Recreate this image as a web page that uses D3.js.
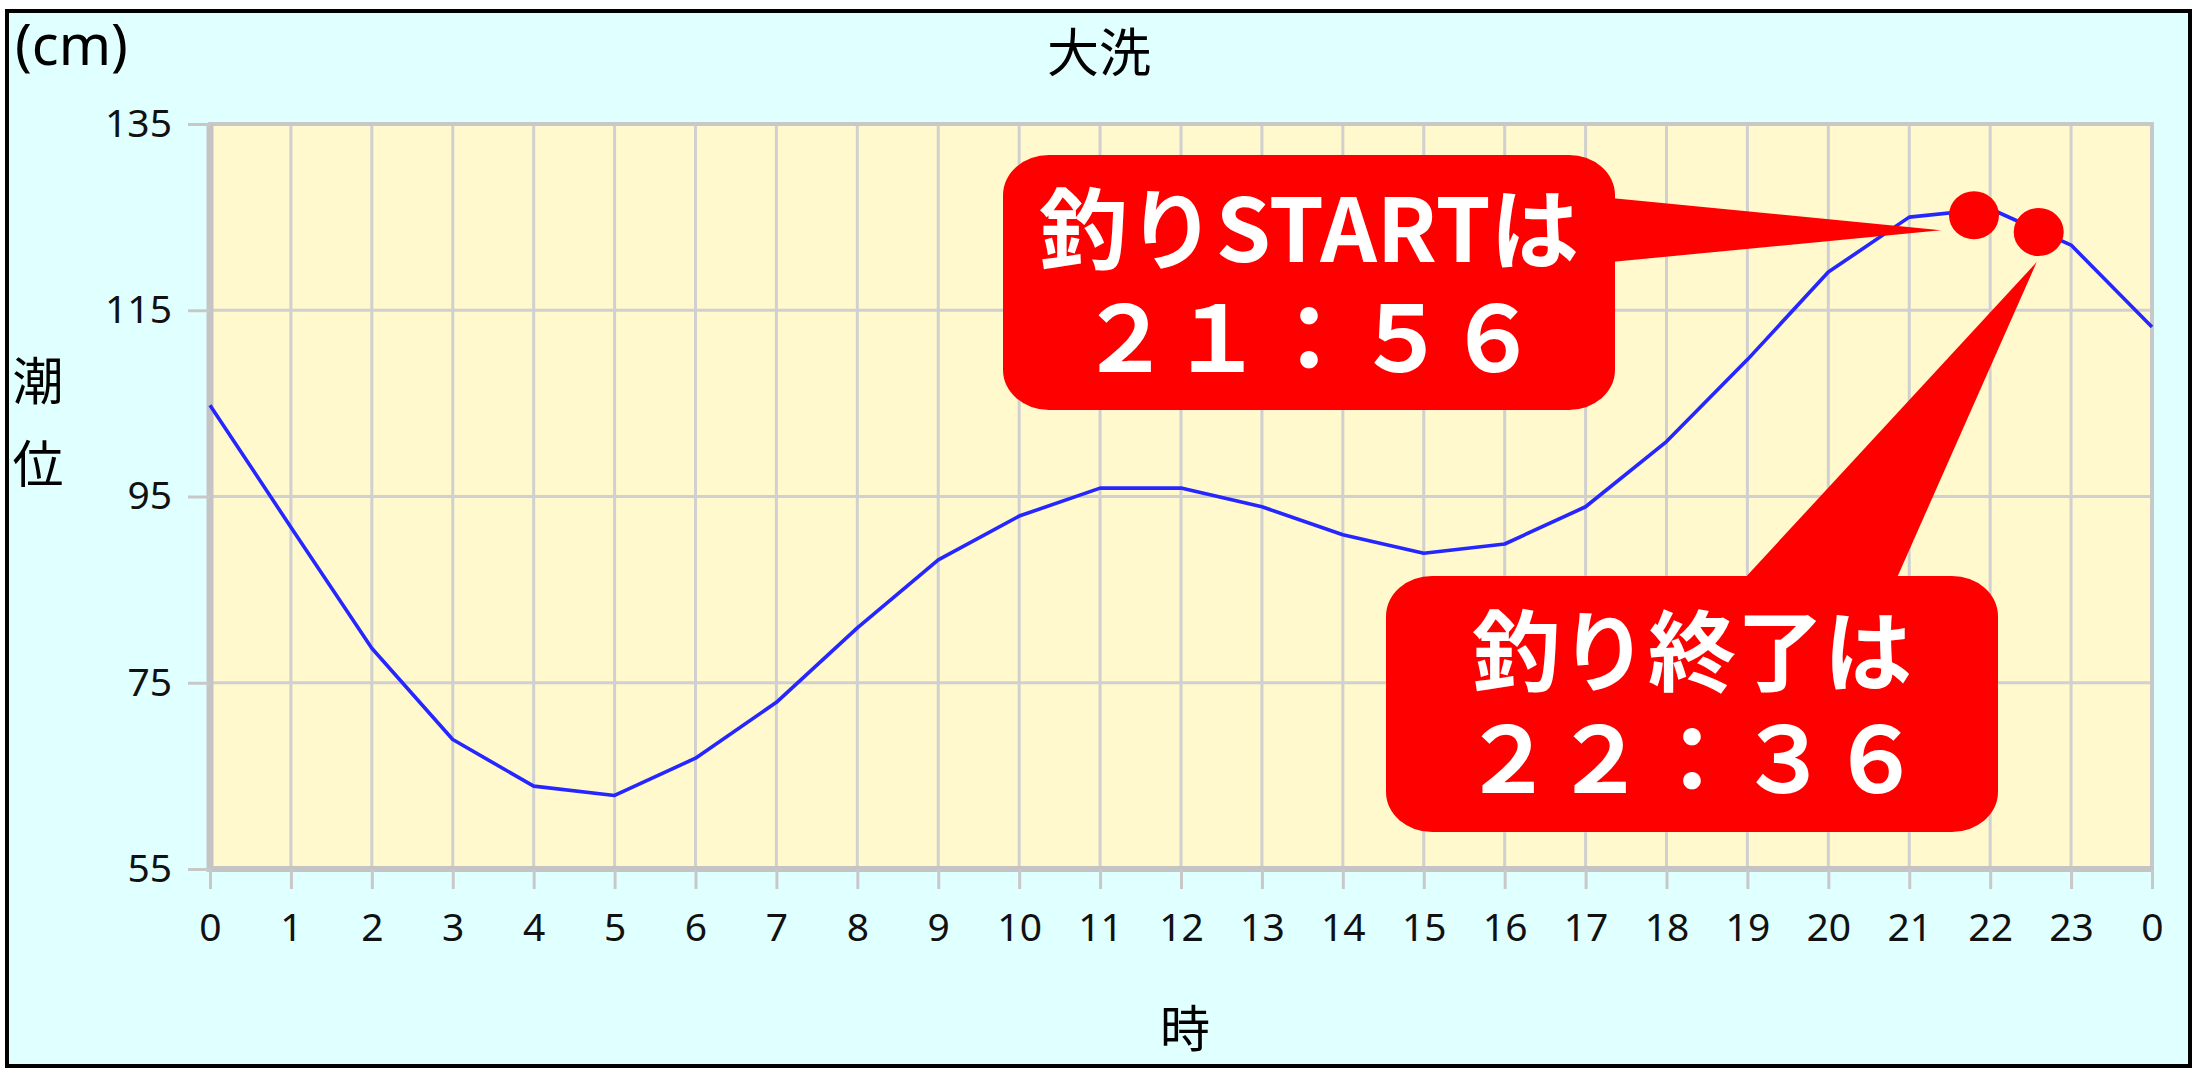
<!DOCTYPE html>
<html>
<head>
<meta charset="utf-8">
<script src="https://cdn.jsdelivr.net/npm/d3@7"></script>
<style>
html,body{margin:0;padding:0;background:#fff;}
svg{display:block;}
</style>
</head>
<body>
<script>
// ---- data ----
const hours = [0,1,2,3,4,5,6,7,8,9,10,11,12,13,14,15,16,17,18,19,20,21,22,23,24];
const tide = [104.8,91.7,78.7,68.9,63.9,62.9,66.9,72.9,80.9,88.2,92.9,95.9,95.9,93.9,90.9,88.9,89.9,93.9,100.9,109.7,119.1,125.0,125.9,122.0,113.2];
const xTickLabels = ["0","1","2","3","4","5","6","7","8","9","10","11","12","13","14","15","16","17","18","19","20","21","22","23","0"];
const yTicks = [55,75,95,115,135];
const markerHours = [21.8, 22.6];
const markerLevels = [125.2, 123.4];
const calloutLine1 = ["釣りSTARTは", "釣り終了は"];
const calloutLine2 = ["２１：５６", "２２：３６"];
const title = "大洗";
const unitLabel = "(cm)";
const yTitle = ["潮","位"];
const xTitle = "時";

const W = 2193, H = 1069;
const svg = d3.select("body").append("svg").attr("width", W).attr("height", H);

// outer frame
svg.append("rect").attr("x",0).attr("y",0).attr("width",W).attr("height",H).attr("fill","#fff");
svg.append("rect").attr("x",7).attr("y",11).attr("width",2183).attr("height",1055)
  .attr("fill","#E0FFFF").attr("stroke","#000").attr("stroke-width",4);

const x = d3.scaleLinear().domain([0,24]).range([210,2152]);
const y = d3.scaleLinear().domain([55,135]).range([869,124]);

const gridColor = "#d0d0d0";
// plot background
svg.append("rect").attr("x",x(0)).attr("y",y(135)).attr("width",x(24)-x(0)).attr("height",y(55)-y(135))
  .attr("fill","#FFF9CD");

// gridlines
svg.append("g").selectAll("line").data(hours).join("line")
  .attr("x1",d=>x(d)).attr("x2",d=>x(d)).attr("y1",y(135)).attr("y2",y(55))
  .attr("stroke",gridColor).attr("stroke-width",3);
svg.append("g").selectAll("line").data(yTicks).join("line")
  .attr("x1",x(0)).attr("x2",x(24)).attr("y1",d=>y(d)).attr("y2",d=>y(d))
  .attr("stroke",gridColor).attr("stroke-width",3);

// plot border (thicker left/bottom)
svg.append("rect").attr("x",x(0)).attr("y",y(135)).attr("width",x(24)-x(0)).attr("height",y(55)-y(135))
  .attr("fill","none").attr("stroke","#c8c8c8").attr("stroke-width",4);
svg.append("line").attr("x1",x(0)).attr("x2",x(0)).attr("y1",y(135)).attr("y2",y(55)+3)
  .attr("stroke","#c4c4c4").attr("stroke-width",7);
svg.append("line").attr("x1",x(0)-3).attr("x2",x(24)+2).attr("y1",y(55)).attr("y2",y(55))
  .attr("stroke","#c4c4c4").attr("stroke-width",6);

// axes
const tickFont = "'Noto Sans', 'DejaVu Sans', sans-serif";
const yAxis = svg.append("g").attr("transform",`translate(${x(0)},0)`)
  .call(d3.axisLeft(y).tickValues(yTicks).tickSize(22).tickPadding(16).tickFormat(d3.format("d")));
const xAxis = svg.append("g").attr("transform",`translate(0,${y(55)})`)
  .call(d3.axisBottom(x).tickValues(hours).tickSize(20).tickPadding(24).tickFormat((d,i)=>xTickLabels[i]));
[yAxis,xAxis].forEach(a=>{
  a.select(".domain").remove();
  a.selectAll(".tick line").attr("stroke","#c8c8c8").attr("stroke-width",3);
  a.selectAll(".tick text").attr("fill","#111").style("font-family",tickFont).style("font-size","39px");
});

// tide line
svg.append("path").datum(hours.map((h,i)=>[h,tide[i]]))
  .attr("d", d3.line().x(d=>x(d[0])).y(d=>y(d[1])))
  .attr("fill","none").attr("stroke","#2626ff").attr("stroke-width",3.6).attr("stroke-linejoin","round");

// titles
const cjk = "'Noto Sans CJK JP', sans-serif";
svg.append("text").attr("x",1099).attr("y",49).attr("text-anchor","middle").attr("dominant-baseline","central")
  .style("font-family",cjk).style("font-size","52px").attr("fill","#000").text(title);
svg.append("text").attr("x",15).attr("y",65)
  .style("font-family","'Noto Sans', sans-serif").style("font-size","56px").attr("fill","#000").text(unitLabel);
svg.selectAll(".ytitle").data(yTitle).join("text").attr("class","ytitle")
  .attr("x",38).attr("y",(d,i)=>378+i*83).attr("text-anchor","middle").attr("dominant-baseline","central")
  .style("font-family",cjk).style("font-size","51px").attr("fill","#000").text(d=>d);
svg.append("text").attr("x",1185).attr("y",1025).attr("text-anchor","middle").attr("dominant-baseline","central")
  .style("font-family",cjk).style("font-size","50px").attr("fill","#000").text(xTitle);

// callouts
const red = "#FF0000";
const m0 = [x(markerHours[0]), y(markerLevels[0])];
const m1 = [x(markerHours[1]), y(markerLevels[1])];
const box1 = {x:1003, y:155, w:612, h:255};
const box2 = {x:1386, y:576, w:612, h:256};

svg.append("path").attr("fill",red)
  .attr("d",`M${box1.x+box1.w-4},198 L${m0[0]-33},${m0[1]+15} L${box1.x+box1.w-4},262 Z`);
svg.append("path").attr("fill",red)
  .attr("d",`M1743,${box2.y+4} L${m1[0]-2},${m1[1]+30} L1896,${box2.y+4} Z`);

[box1,box2].forEach(b=>{
  svg.append("rect").attr("x",b.x).attr("y",b.y).attr("width",b.w).attr("height",b.h)
    .attr("rx",46).attr("ry",40).attr("fill",red);
});

svg.selectAll(".marker").data(markerHours).join("ellipse").attr("class","marker")
  .attr("cx",(d)=>x(d)).attr("cy",(d,i)=>y(markerLevels[i])).attr("rx",25).attr("ry",24).attr("fill",red);

// callout texts
const boxes = [box1, box2];
const base1 = [262, 684];
const base2 = [372, 793];
calloutLine1.forEach((t,i)=>{
  const b = boxes[i];
  const el = svg.append("text").attr("x",b.x+b.w/2).attr("y",base1[i]).attr("text-anchor","middle")
    .style("font-family",cjk).style("font-weight","700").style("font-size","88px").attr("fill","#fff").text(t);
  if(i===0) el.attr("textLength",540).attr("lengthAdjust","spacingAndGlyphs");
});
calloutLine2.forEach((t,i)=>{
  const b = boxes[i];
  svg.append("text").attr("x",b.x+b.w/2).attr("y",base2[i]).attr("text-anchor","middle")
    .style("font-family",cjk).style("font-weight","700").style("font-size","92px").attr("fill","#fff").text(t);
});
</script>
</body>
</html>
